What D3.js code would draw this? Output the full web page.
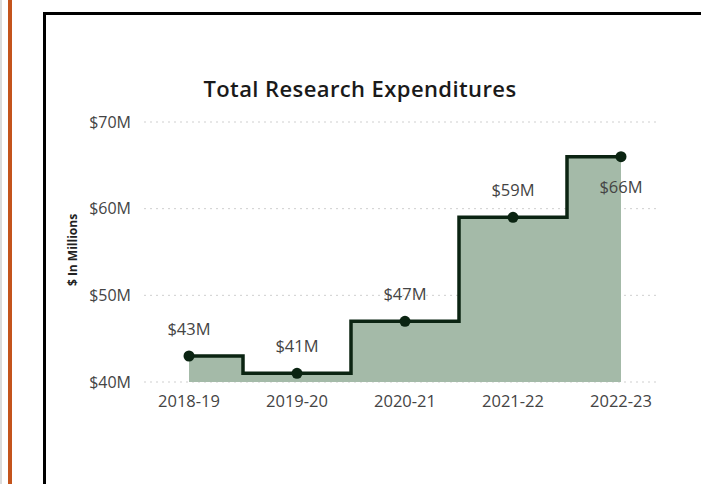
<!DOCTYPE html>
<html>
<head>
<meta charset="utf-8">
<script src="https://cdn.jsdelivr.net/npm/d3@7"></script>
<style>
  html, body { margin: 0; background: #fff; overflow: hidden; }
  svg { display: block; }
  text { font-family: "Segoe UI", "Open Sans", sans-serif; }
</style>
</head>
<body>
<svg id="chart" width="701" height="484"></svg>
<script>
// data
var years = ["2018-19", "2019-20", "2020-21", "2021-22", "2022-23"];
var spend = [43, 41, 47, 59, 66];
var yTicks = [40, 50, 60, 70];

var svg = d3.select("#chart");

// page frame: grey + orange strips on the left, black card border (top + left only)
svg.append("line").attr("x1", 1).attr("x2", 1).attr("y1", 0).attr("y2", 484)
  .attr("stroke", "#dcdcdc").attr("stroke-width", 2);
svg.append("line").attr("x1", 10).attr("x2", 10).attr("y1", 0).attr("y2", 484)
  .attr("stroke", "#c4541c").attr("stroke-width", 4);
svg.append("rect").attr("x", 43).attr("y", 12).attr("width", 3).attr("height", 472)
  .attr("fill", "#000");
svg.append("rect").attr("x", 43).attr("y", 12).attr("width", 658).attr("height", 3)
  .attr("fill", "#000");

var x = d3.scaleBand().domain(years).range([135, 675]);
var y = d3.scaleLinear().domain([40, 70]).range([382, 122]);
var cx = d => x(d) + x.bandwidth() / 2;

// title
svg.append("text")
  .attr("x", 360).attr("y", 97)
  .attr("text-anchor", "middle")
  .style("font-size", "22px").style("font-weight", 600)
  .style("letter-spacing", "0.4px")
  .attr("fill", "#1a1a1a")
  .text("Total Research Expenditures");

// gridlines
svg.append("g").selectAll("line").data(yTicks).join("line")
  .attr("x1", 144).attr("x2", 660)
  .attr("y1", d => y(d)).attr("y2", d => y(d))
  .attr("stroke", "#cfcfcf").attr("stroke-dasharray", "2,4");

// y axis labels
var yAxis = svg.append("g")
  .attr("transform", "translate(131,0)")
  .call(d3.axisLeft(y).tickValues(yTicks).tickSize(0).tickPadding(0).tickFormat(d => "$" + d + "M"));
yAxis.select(".domain").remove();
yAxis.selectAll("text")
  .style("font-size", "16px").attr("fill", "#444")
  .style("font-family", "'Segoe UI', 'Open Sans', sans-serif");

svg.append("text")
  .attr("transform", "translate(77,250) rotate(-90)")
  .attr("text-anchor", "middle")
  .style("font-size", "12px").style("font-weight", 700)
  .attr("fill", "#222")
  .text("$ In Millions");

// x axis labels
var xAxis = svg.append("g")
  .attr("transform", "translate(0,395)")
  .call(d3.axisBottom(x).tickSize(0).tickPadding(0));
xAxis.select(".domain").remove();
xAxis.selectAll("text")
  .style("font-size", "16.5px").attr("fill", "#444")
  .style("font-family", "'Segoe UI', 'Open Sans', sans-serif");

var rows = years.map((d, i) => ({ year: d, v: spend[i] }));

// area + step line
var area = d3.area()
  .x(d => cx(d.year)).y0(y(40)).y1(d => y(d.v))
  .curve(d3.curveStep);
svg.append("path").datum(rows)
  .attr("d", area)
  .attr("fill", "#a4baa8");

var line = d3.line()
  .x(d => cx(d.year)).y(d => y(d.v))
  .curve(d3.curveStep);
svg.append("path").datum(rows)
  .attr("d", line)
  .attr("fill", "none")
  .attr("stroke", "#0b2412").attr("stroke-width", 3.5);

svg.append("g").selectAll("circle").data(rows).join("circle")
  .attr("cx", d => cx(d.year)).attr("cy", d => y(d.v))
  .attr("r", 5.5).attr("fill", "#0b2412");

// data labels (last one sits under the point)
svg.append("g").selectAll("text").data(rows).join("text")
  .attr("x", d => cx(d.year))
  .attr("y", (d, i) => i === rows.length - 1 ? y(d.v) + 36 : y(d.v) - 21)
  .attr("text-anchor", "middle")
  .style("font-size", "16.5px").attr("fill", "#444")
  .text(d => "$" + d.v + "M");
</script>
</body>
</html>
